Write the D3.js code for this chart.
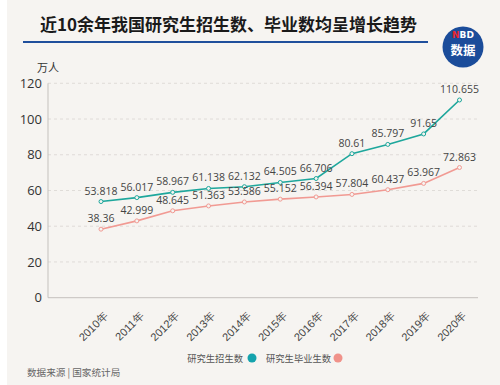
<!DOCTYPE html>
<html>
<head>
<meta charset="utf-8">
<script src="https://cdn.jsdelivr.net/npm/d3@7"></script>
<style>
  body { margin: 0; background: #fff; }
  svg { display: block; font-family: "Noto Sans CJK SC", "Noto Sans", sans-serif; }
</style>
</head>
<body>
<div id="chart"></div>
<script>
var years = ["2010年","2011年","2012年","2013年","2014年","2015年","2016年","2017年","2018年","2019年","2020年"];
var enroll = [53.818, 56.017, 58.967, 61.138, 62.132, 64.505, 66.706, 80.61, 85.797, 91.65, 110.655];
var grads = [38.36, 42.999, 48.645, 51.363, 53.586, 55.152, 56.394, 57.804, 60.437, 63.967, 72.863];
var yTicks = [0, 20, 40, 60, 80, 100, 120];

var W = 500, H = 385;
var svg = d3.select("#chart").append("svg")
    .attr("width", W).attr("height", H);

// background
svg.append("rect").attr("x", 7).attr("y", 0).attr("width", W - 7).attr("height", H)
    .attr("fill", "#f6f4f1");

// title + rule
svg.append("text").attr("x", 40).attr("y", 31)
    .attr("font-size", 17).attr("font-weight", "bold").attr("fill", "#1a1a1a")
    .text("近10余年我国研究生招生数、毕业数均呈增长趋势");
svg.append("line").attr("x1", 23).attr("x2", 428).attr("y1", 42).attr("y2", 42)
    .attr("stroke", "#1f4f9c").attr("stroke-width", 1.8);

// logo
var logo = svg.append("g").attr("transform", "translate(463,47)");
logo.append("circle").attr("r", 20.5).attr("fill", "#1b4c9a");
var nbd = logo.append("text").attr("y", -9).attr("text-anchor", "middle")
    .attr("font-size", 9).attr("font-weight", "bold").attr("font-family", "DejaVu Sans, sans-serif");
nbd.append("tspan").attr("fill", "#e8262d").text("N");
nbd.append("tspan").attr("fill", "#fff").text("BD");
logo.append("text").attr("y", 8).attr("text-anchor", "middle")
    .attr("font-size", 12.5).attr("font-weight", "bold").attr("fill", "#fff").text("数据");

// scales
var x = d3.scalePoint().domain(years).range([101, 459.5]);
var y = d3.scaleLinear().domain([0, 120]).range([297.7, 83.3]);

// grid
svg.append("g").selectAll("line").data(yTicks.filter(function(d){ return d > 0; }))
  .enter().append("line")
    .attr("x1", 48).attr("x2", 478)
    .attr("y1", function(d){ return y(d); }).attr("y2", function(d){ return y(d); })
    .attr("stroke", "#d9d6d2").attr("stroke-dasharray", "3,3").attr("stroke-width", 0.8);

// axes lines
svg.append("line").attr("x1", 48).attr("x2", 48).attr("y1", y(120)).attr("y2", y(0))
    .attr("stroke", "#c4c1bd").attr("stroke-width", 1);
svg.append("line").attr("x1", 48).attr("x2", 478).attr("y1", y(0)).attr("y2", y(0))
    .attr("stroke", "#c4c1bd").attr("stroke-width", 1);

// y axis labels
var yAxis = svg.append("g").attr("transform", "translate(48,0)")
    .call(d3.axisLeft(y).tickValues(yTicks).tickSize(0).tickPadding(6));
yAxis.select(".domain").remove();
yAxis.selectAll("text").attr("font-size", 13).attr("fill", "#333")
    .attr("font-family", "Open Sans, Noto Sans, sans-serif");

svg.append("text").attr("x", 37).attr("y", 72).attr("font-size", 11).attr("fill", "#333").text("万人");

// x axis labels
var xAxis = svg.append("g").attr("transform", "translate(0," + y(0) + ")")
    .call(d3.axisBottom(x).tickSize(0).tickPadding(0));
xAxis.select(".domain").remove();
xAxis.selectAll("text")
    .attr("font-size", 11).attr("fill", "#444")
    .attr("text-anchor", "end")
    .attr("dy", null)
    .attr("transform", "translate(7,19) rotate(-45)");

// series
var series = [
  { name: "研究生招生数", values: enroll, color: "#1ea79c", dot: "#14a3ad" },
  { name: "研究生毕业生数", values: grads, color: "#f19a93", dot: "#f0928a" }
];

var line = d3.line()
    .x(function(d, i){ return x(years[i]); })
    .y(function(d){ return y(d); });

series.forEach(function(s) {
  svg.append("path").datum(s.values)
    .attr("fill", "none").attr("stroke", s.color).attr("stroke-width", 1.6)
    .attr("d", line);
  svg.append("g").selectAll("circle").data(s.values).enter().append("circle")
    .attr("cx", function(d, i){ return x(years[i]); })
    .attr("cy", function(d){ return y(d); })
    .attr("r", 2)
    .attr("fill", "#f6f4f1").attr("stroke", s.color).attr("stroke-width", 1);
  svg.append("g").selectAll("text").data(s.values).enter().append("text")
    .attr("x", function(d, i){ return x(years[i]); })
    .attr("y", function(d){ return y(d) - 7; })
    .attr("text-anchor", "middle")
    .attr("font-size", 10.5).attr("fill", "#444")
    .attr("font-family", "Open Sans, Noto Sans, sans-serif")
    .text(function(d){ return d; });
});

// legend
var lg = svg.append("g");
lg.append("text").attr("x", 243).attr("y", 361.5).attr("text-anchor", "end")
  .attr("font-size", 9.3).attr("fill", "#555").text(series[0].name);
lg.append("circle").attr("cx", 252).attr("cy", 358).attr("r", 4.5).attr("fill", series[0].dot);
lg.append("text").attr("x", 266).attr("y", 361.5)
  .attr("font-size", 9.3).attr("fill", "#555").text(series[1].name);
lg.append("circle").attr("cx", 338).attr("cy", 358).attr("r", 4.5).attr("fill", series[1].dot);

// source
svg.append("text").attr("x", 27).attr("y", 376).attr("font-size", 9.6).attr("fill", "#666")
  .text("数据来源 | 国家统计局");
</script>
</body>
</html>
